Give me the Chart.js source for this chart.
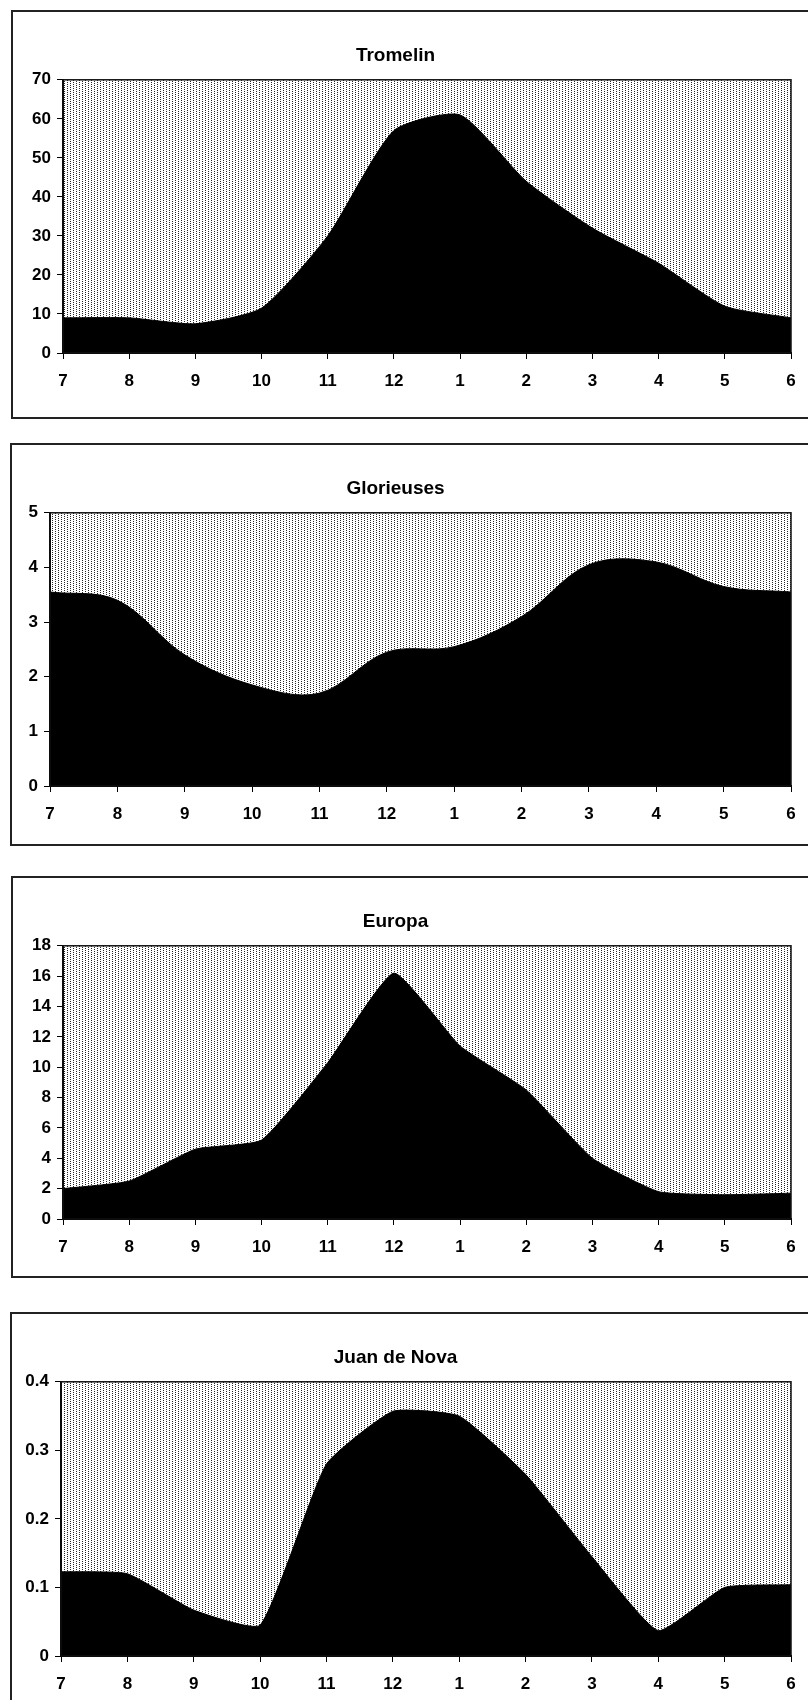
<!DOCTYPE html>
<html>
<head>
<meta charset="utf-8">
<script src="https://cdn.jsdelivr.net/npm/chart.js@4/dist/chart.umd.min.js"></script>
<style>
  body { margin: 0; background: #fff; width: 808px; height: 1700px; position: relative; overflow: hidden; }
  .frame { position: absolute; left: 11px; width: 820px; border: 2px solid #222; border-right: none; box-sizing: border-box; }
  canvas { position: absolute; left: 0; }
</style>
</head>
<body>
<div class="frame" style="top:10px;height:409px"></div>
<div class="frame" style="top:443px;height:403px;left:10px"></div>
<div class="frame" style="top:876px;height:402px"></div>
<div class="frame" style="top:1312px;height:420px;left:10px"></div>
<canvas id="c1" width="808" height="408" style="top:10px"></canvas>
<canvas id="c2" width="808" height="402" style="top:443px"></canvas>
<canvas id="c3" width="808" height="401" style="top:876px"></canvas>
<canvas id="c4" width="808" height="388" style="top:1312px"></canvas>
<script>
// months, July to June
const months = ['7', '8', '9', '10', '11', '12', '1', '2', '3', '4', '5', '6'];

const tromelin = [9, 9, 7.5, 11.5, 30, 57, 61, 44, 32, 23, 12, 9];
const glorieuses = [3.55, 3.4, 2.4, 1.85, 1.7, 2.45, 2.55, 3.1, 4.05, 4.1, 3.65, 3.55];
const europa = [2, 2.5, 4.6, 5.2, 10.3, 16.2, 11.4, 8.5, 4.0, 1.8, 1.6, 1.7];
const juanDeNova = [0.123, 0.12, 0.067, 0.045, 0.28, 0.357, 0.35, 0.265, 0.145, 0.037, 0.1, 0.104];

const titles = ['Tromelin', 'Glorieuses', 'Europa', 'Juan de Nova'];
const yMax = [70, 5, 18, 0.4];
const yStep = [10, 1, 2, 0.1];

// stippled grey of the scanned plot area: dotted vertical columns
const tile = document.createElement('canvas');
tile.width = 6; tile.height = 4;
const tctx = tile.getContext('2d');
tctx.fillStyle = '#000';
[[1, 0], [1, 2], [4, 1], [4, 3]].forEach(([x, y]) => tctx.fillRect(x, y, 1, 1));

const plotArea = {
    id: 'plotArea',
    beforeDatasetsDraw(chart) {
        const { ctx, chartArea: a } = chart;
        ctx.save();
        ctx.fillStyle = ctx.createPattern(tile, 'repeat');
        ctx.globalAlpha = 0.85;
        ctx.fillRect(a.left, a.top, a.right - a.left, a.bottom - a.top);
        ctx.restore();
    },
    afterDatasetsDraw(chart) {
        const { ctx, chartArea: a } = chart;
        ctx.save();
        ctx.strokeStyle = '#111';
        ctx.lineWidth = 1.5;
        ctx.strokeRect(a.left, a.top, a.right - a.left, a.bottom - a.top);
        ctx.restore();
    }
};

const font = { family: '"Liberation Sans", Arial, sans-serif', weight: 'bold', size: 17 };

function makeChart(id, i, values, yWidth, bottomPad, tension) {
    new Chart(document.getElementById(id), {
        type: 'line',
        data: {
            labels: months,
            datasets: [{
                data: values,
                backgroundColor: '#000',
                borderColor: '#000',
                borderWidth: 1,
                fill: 'origin',
                pointRadius: 0,
                tension: tension
            }]
        },
        options: {
            responsive: false,
            animation: false,
            layout: { padding: { top: 0, left: 0, right: 17, bottom: bottomPad } },
            scales: {
                x: {
                    offset: false,
                    grid: { drawOnChartArea: false, tickLength: 6, color: '#000' },
                    border: { display: true, color: '#000', width: 2 },
                    ticks: { color: '#000', font: font, padding: 12, maxRotation: 0 },
                    afterFit: (s) => { s.height = 42; }
                },
                y: {
                    min: 0,
                    max: yMax[i],
                    grid: { drawOnChartArea: false, tickLength: 6, color: '#000' },
                    border: { display: true, color: '#000', width: 2 },
                    ticks: { stepSize: yStep[i], color: '#000', font: font, padding: 6 },
                    afterFit: (s) => { s.width = yWidth; }
                }
            },
            plugins: {
                legend: { display: false },
                tooltip: { enabled: false },
                title: {
                    display: true,
                    text: titles[i],
                    color: '#000',
                    font: { family: '"Liberation Sans", Arial, sans-serif', weight: 'bold', size: 19 },
                    padding: { top: 34, bottom: 13 }
                }
            }
        },
        plugins: [plotArea]
    });
}

makeChart('c1', 0, tromelin, 63, 23, 0.2);
makeChart('c2', 1, glorieuses, 50, 17, 0.35);
makeChart('c3', 2, europa, 63, 16, 0.15);
makeChart('c4', 3, juanDeNova, 61, 2, 0.15);
</script>
</body>
</html>
